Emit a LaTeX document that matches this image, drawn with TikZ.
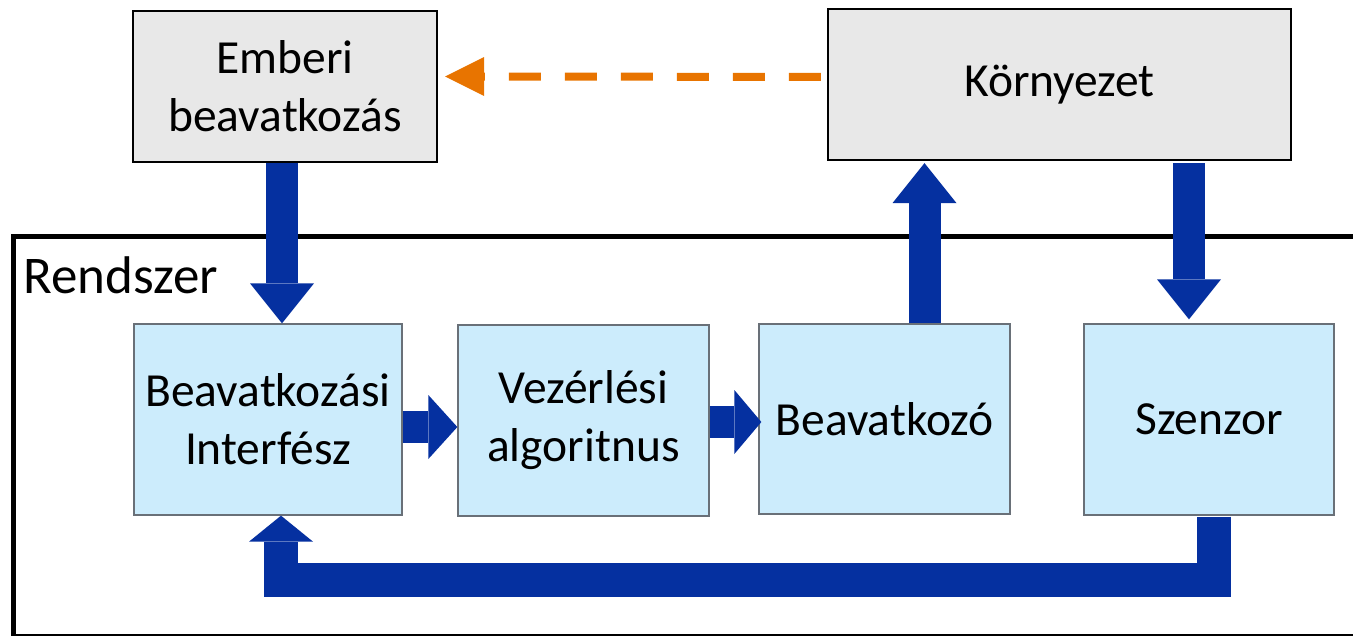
\documentclass[tikz,border=0pt]{standalone}
\usepackage{fontspec}
\setmainfont{Carlito}
\usetikzlibrary{arrows.meta}

\definecolor{flowblue}{RGB}{5,48,160}
\definecolor{signalorange}{RGB}{232,116,0}
\definecolor{outerfill}{RGB}{232,232,232}
\definecolor{innerfill}{RGB}{204,236,252}
\definecolor{inneredge}{RGB}{105,112,120}

\newcommand{\diagfont}{\fontsize{47.5}{58}\selectfont}
\newcommand{\framefont}{\fontsize{53}{60}\selectfont}

\begin{document}
\begin{tikzpicture}[x=1pt,y=-1pt,
  outerbox/.style={draw=black,line width=2.2pt,fill=outerfill,
    align=center,inner sep=0pt,font=\diagfont},
  innerbox/.style={draw=inneredge,line width=1.3pt,fill=innerfill,
    align=center,inner sep=0pt,font=\diagfont},
  bigarrow/.style={draw=flowblue,line width=32pt,line join=miter,
    -{Triangle[length=#1,width=64pt,line width=0pt]}},
  bigarrow/.default=40pt,
  signaldash/.style={draw=signalorange,line width=8pt,
    dash pattern=on 32pt off 24pt,dash phase=50pt},
  signalhead/.style={draw=signalorange,line width=8pt,
    -{Triangle[length=39pt,width=39pt,line width=0pt]}},
]
\useasboundingbox (0,0) rectangle (1353,635);

% system boundary (runs past the right and bottom edges)
\draw[line width=5pt] (13.5,236.5) rectangle (1420,636.5);
\node[anchor=base west,inner sep=0pt,font=\framefont] (rendszer) at (23,293) {Rendszer};

% outer blocks
\node[outerbox,minimum width=304pt,minimum height=151pt] (emb) at (285,86.5)
  {Emberi\\beavatkozás};
\node[outerbox,minimum width=463pt,minimum height=151pt] (korny) at (1059.5,84.5)
  {Környezet};

% blocks inside the system
\node[innerbox,minimum width=268pt,minimum height=191pt] (beav) at (268,419.5)
  {Beavatkozási\\Interfész};
\node[innerbox,minimum width=251pt,minimum height=191pt] (vez) at (583.5,420.5)
  {Vezérlési\\algoritnus};
\node[innerbox,minimum width=251pt,minimum height=190pt] (act) at (884.5,419)
  {Beavatkozó};
\node[innerbox,minimum width=250pt,minimum height=191pt] (szen) at (1209,419.5)
  {Szenzor};

% dashed signal from the environment to the human operator
\coordinate (headbase) at ([xshift=46pt,yshift=10pt]emb.east);
\draw[signaldash] ([yshift=7.5pt]korny.west) -- (headbase);
\draw[signalhead] (headbase) -- ([xshift=7pt,yshift=10pt]emb.east);

% main flow
\draw[bigarrow] ([xshift=-3pt]emb.south) -- ([xshift=14pt]beav.north);
\draw[bigarrow=29pt] ([yshift=-7.5pt]beav.east) -- ([yshift=-6.5pt]vez.west);
\draw[bigarrow=27pt] ([yshift=-1.5pt]vez.east) -- ([xshift=3pt,yshift=-3pt]act.west);
\draw[bigarrow] ([xshift=40pt]act.north) -- ([xshift=-135pt,yshift=-2pt]korny.south);
\draw[bigarrow] ([xshift=-20pt,yshift=-2pt]korny.south -| szen.north)
  -- ([xshift=-20pt,yshift=4pt]szen.north);
\draw[bigarrow=26pt,line width=34pt] ([xshift=5pt,yshift=-1pt]szen.south) -- ++(0,63)
  -| ([xshift=13pt]beav.south);
\end{tikzpicture}
\end{document}
